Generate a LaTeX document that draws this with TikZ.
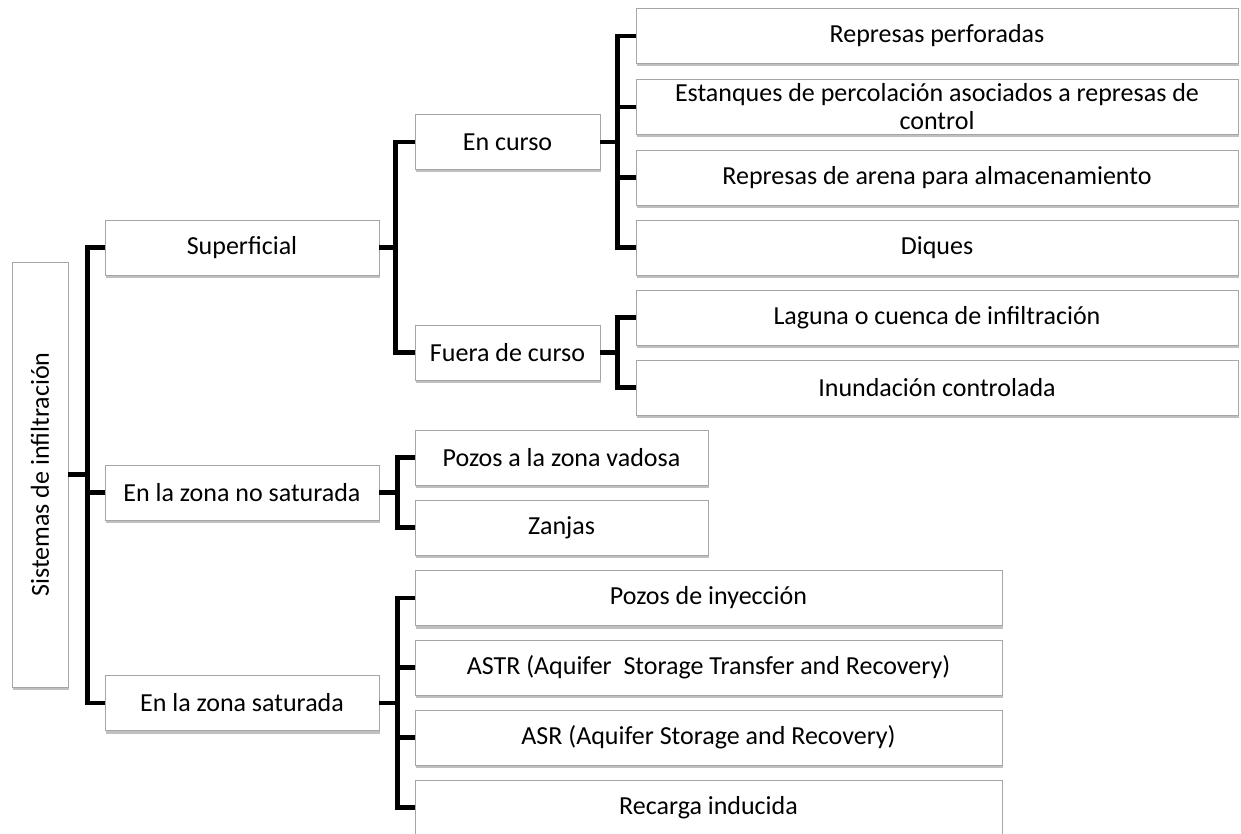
\documentclass[tikz,border=0pt]{standalone}
\usepackage{fontspec}
\setmainfont{Carlito}
\usetikzlibrary{shadows}

\begin{document}
\begin{tikzpicture}[x=0.5pt,y=-0.5pt,
              caja/.style={draw=black!35,fill=white,minimum height=27.5pt,inner sep=2pt,align=center,
                font=\fontsize{13}{14}\selectfont,
                drop shadow={shadow xshift=0.5pt,shadow yshift=-1.5pt,fill=black!55,opacity=0.45}},
              rama/.style={line width=2.3pt,black}]
              \useasboundingbox (0,0) rectangle (1241,834);
              \node[caja,rotate=90,minimum width=212.5pt,minimum height=28pt](raiz)at(40,474.5){Sistemas de infiltración};
              \node[caja,minimum width=137pt](sup)at(242,247.5){Superficial};
              \node[caja,minimum width=137pt](nosat)at(242,492.5){En la zona no saturada};
              \node[caja,minimum width=137pt](sat)at(242,703){En la zona saturada};
              \node[caja,minimum width=92.5pt](curso)at(507.5,142){En curso};
              \node[caja,minimum width=92.5pt](fuera)at(507.5,352.5){Fuera de curso};
              \node[caja,minimum width=301pt](r1)at(937,36){Represas perforadas};
              \node[caja,minimum width=301pt,inner ysep=0pt](r2)at(937,107){Estanques de percolación asociados a represas de\\control};
              \node[caja,minimum width=301pt](r3)at(937,177.5){Represas de arena para almacenamiento};
              \node[caja,minimum width=301pt](r4)at(937,247.5){Diques};
              \node[caja,minimum width=301pt](l1)at(937,317.5){Laguna o cuenca de infiltración};
              \node[caja,minimum width=301pt](l2)at(937,387.5){Inundación controlada};
              \node[caja,minimum width=146.5pt](v1)at(561.5,457.5){Pozos a la zona vadosa};
              \node[caja,minimum width=146.5pt](v2)at(561.5,527.5){Zanjas};
              \node[caja,minimum width=293.5pt](s1)at(708.5,598){Pozos de inyección};
              \node[caja,minimum width=293.5pt](s2)at(708.5,667.5){ASTR (Aquifer\ \ Storage Transfer and Recovery)};
              \node[caja,minimum width=293.5pt](s3)at(708.5,737.5){ASR (Aquifer Storage and Recovery)};
              \node[caja,minimum width=293.5pt](s4)at(708.5,807.5){Recarga inducida};
              \draw[rama](raiz.south)--++(19,0)|-(sup.west);
              \draw[rama](raiz.south)--++(19,0)|-(nosat.west);
              \draw[rama](raiz.south)--++(19,0)|-(sat.west);
              \draw[rama](sup.east)--++(16,0)|-(curso.west);
              \draw[rama](sup.east)--++(16,0)|-(fuera.west);
              \draw[rama](curso.east)--++(17,0)|-(r1.west);
              \draw[rama](curso.east)--++(17,0)|-(r2.west);
              \draw[rama](curso.east)--++(17,0)|-(r3.west);
              \draw[rama](curso.east)--++(17,0)|-(r4.west);
              \draw[rama](fuera.east)--++(17,0)|-(l1.west);
              \draw[rama](fuera.east)--++(17,0)|-(l2.west);
              \draw[rama](nosat.east)--++(18,0)|-(v1.west);
              \draw[rama](nosat.east)--++(18,0)|-(v2.west);
              \draw[rama](sat.east)--++(18,0)|-(s1.west);
              \draw[rama](sat.east)--++(18,0)|-(s2.west);
              \draw[rama](sat.east)--++(18,0)|-(s3.west);
              \draw[rama](sat.east)--++(18,0)|-(s4.west);
            \end{tikzpicture}
\end{document}
